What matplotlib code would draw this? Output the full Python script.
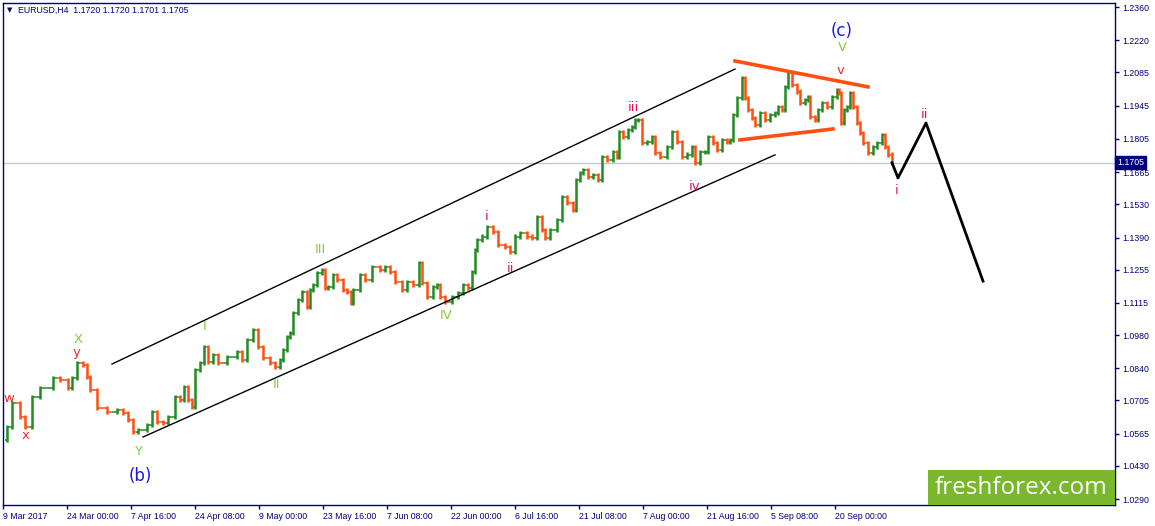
import matplotlib
matplotlib.use("Agg")
import matplotlib.pyplot as plt
from matplotlib.patches import Rectangle

# H4 bars, one pixel per bar; bar index and close
bar_idx = [0, 4, 9, 17, 22, 29, 37, 50, 57, 65, 69, 74, 80, 84, 87, 94, 104, 114, 120, 125,
           130, 135, 144, 149, 154, 160, 165, 172, 177, 181, 185, 189, 192, 197, 201, 205, 210, 215, 224, 234,
           239, 244, 250, 255, 260, 267, 272, 277, 280, 284, 287, 290, 295, 299, 304, 307, 310, 314, 319, 322,
           325, 330, 334, 340, 344, 348, 350, 357, 362, 369, 377, 382, 387, 392, 399, 404, 410, 416, 419, 424,
           430, 434, 437, 442, 449, 455, 460, 465, 469, 472, 474, 479, 484, 490, 495, 502, 507, 512, 517, 524,
           529, 534, 539, 542, 547, 554, 559, 564, 570, 573, 577, 580, 585, 590, 595, 599, 604, 610, 614, 616,
           620, 625, 629, 632, 635, 639, 644, 649, 652, 657, 664, 669, 674, 679, 684, 689, 692, 697, 702, 705,
           710, 714, 719, 724, 727, 730, 734, 739, 742, 745, 749, 752, 757, 762, 767, 772, 775, 779, 782, 785,
           789, 794, 797, 802, 805, 807, 812, 815, 819, 824, 829, 834, 836, 838, 841, 844, 847, 850, 854, 857,
           860, 865, 870, 874, 879, 882, 885, 889]
close = [1.0539, 1.0593, 1.0694, 1.0635, 1.0593, 1.0719, 1.0757, 1.0799, 1.0791, 1.0757,
         1.0799, 1.0862, 1.0854, 1.0803, 1.0749, 1.0673, 1.0656, 1.0665, 1.0652, 1.0623,
         1.0572, 1.0581, 1.0602, 1.0656, 1.0614, 1.0610, 1.0635, 1.0719, 1.0707, 1.0761,
         1.0707, 1.0677, 1.0833, 1.0862, 1.0930, 1.0867, 1.0896, 1.0862, 1.0888, 1.0909,
         1.0875, 1.0959, 1.1001, 1.0930, 1.0883, 1.0862, 1.0846, 1.0875, 1.0917, 1.0972,
         1.0989, 1.1073, 1.1127, 1.1161, 1.1098, 1.1170, 1.1191, 1.1241, 1.1254, 1.1178,
         1.1182, 1.1233, 1.1212, 1.1170, 1.1161, 1.1115, 1.1170, 1.1233, 1.1212, 1.1266,
         1.1254, 1.1266, 1.1245, 1.1203, 1.1170, 1.1203, 1.1191, 1.1283, 1.1199, 1.1140,
         1.1182, 1.1191, 1.1140, 1.1119, 1.1140, 1.1157, 1.1191, 1.1178, 1.1245, 1.1338,
         1.1380, 1.1393, 1.1435, 1.1414, 1.1359, 1.1350, 1.1329, 1.1393, 1.1409, 1.1393,
         1.1388, 1.1477, 1.1422, 1.1388, 1.1422, 1.1464, 1.1561, 1.1535, 1.1506, 1.1632,
         1.1662, 1.1674, 1.1645, 1.1653, 1.1632, 1.1729, 1.1716, 1.1750, 1.1729, 1.1834,
         1.1813, 1.1843, 1.1855, 1.1885, 1.1885, 1.1788, 1.1792, 1.1813, 1.1746, 1.1729,
         1.1771, 1.1834, 1.1792, 1.1729, 1.1738, 1.1771, 1.1704, 1.1750, 1.1750, 1.1813,
         1.1788, 1.1759, 1.1801, 1.1792, 1.1801, 1.1906, 1.1977, 1.2061, 1.1977, 1.1927,
         1.1893, 1.1864, 1.1914, 1.1885, 1.1906, 1.1914, 1.1939, 1.1927, 1.2024, 1.2082,
         1.2032, 1.2003, 1.1956, 1.1969, 1.1981, 1.1897, 1.1885, 1.1927, 1.1956, 1.1939,
         1.1981, 1.2011, 1.1998, 1.1872, 1.1927, 1.1939, 1.1998, 1.1939, 1.1872, 1.1830,
         1.1788, 1.1746, 1.1771, 1.1788, 1.1822, 1.1771, 1.1738, 1.1705]

last_price = 1.1705

# trend lines (bar index, price)
chan_upper = ([109, 732], [1.0858, 1.2099])
chan_lower = ([140, 772], [1.0551, 1.1738])
tri_upper = ([732, 865], [1.2133, 1.2024])
tri_lower = ([737, 830], [1.1801, 1.1847])
forecast = ([889, 895, 923, 980], [1.1705, 1.1641, 1.1872, 1.1207])

# wave labels: text, bar, price, kind
wave_labels = [
    ("w", 6, 1.0711, "red"), ("x", 23, 1.0559, "red"), ("X", 75, 1.0960, "green"),
    ("y", 74, 1.0905, "red"), ("Y", 135, 1.0488, "green"), ("(b)", 137, 1.0387, "blue"),
    ("I", 202, 1.1014, "green"), ("II", 273, 1.0770, "green"), ("III", 317, 1.1338, "green"),
    ("IV", 443, 1.1064, "green"), ("i", 484, 1.1477, "pink"), ("ii", 507, 1.1262, "pink"),
    ("iii", 630, 1.1939, "pink"), ("iv", 692, 1.1607, "pink"), ("(c)", 839, 1.2259, "blue"),
    ("V", 839, 1.2188, "green"), ("v", 838, 1.2091, "red"), ("i", 894, 1.1590, "pink"),
    ("ii", 922, 1.1906, "pink"),
]

price_ticks = [1.2360, 1.2220, 1.2085, 1.1945, 1.1805, 1.1665, 1.1530, 1.1390,
               1.1255, 1.1115, 1.0980, 1.0840, 1.0705, 1.0565, 1.0430, 1.0290]
time_ticks = [0, 64, 128, 192, 256, 320, 384, 448, 512, 576, 640, 704, 768, 832]
time_labels = ["9 Mar 2017", "24 Mar 00:00", "7 Apr 16:00", "24 Apr 08:00", "9 May 00:00",
               "23 May 16:00", "7 Jun 08:00", "22 Jun 00:00", "6 Jul 16:00", "21 Jul 08:00",
               "7 Aug 00:00", "21 Aug 16:00", "5 Sep 08:00", "20 Sep 00:00"]

NAVY = "#00007f"
UP = "#228b22"
DOWN = "#ff4f0f"
colors = {"red": "#f22a2a", "green": "#86cc3a", "pink": "#e8125c", "blue": "#1a1ae6"}

W, H = 1155, 526
fig = plt.figure(figsize=(W / 100, H / 100), dpi=100)
ax = fig.add_axes([3 / W, 21 / H, 1112 / W, 502 / H])
ax.set_xlim(0, 1112)
ax.set_ylim(1.02650, 1.23769)

for s in ax.spines.values():
    s.set_color(NAVY)
    s.set_linewidth(1)

# bars: open = previous close, ticks reach halfway to the neighbours
pad = 0.0010
for i in range(1, len(close)):
    o, c = close[i - 1], close[i]
    x = bar_idx[i]
    col = UP if c >= o else DOWN
    left = (bar_idx[i - 1] + x) / 2
    right = (x + bar_idx[i + 1]) / 2 if i + 1 < len(bar_idx) else x + 1.5
    ax.vlines(x, min(o, c) - pad, max(o, c) + pad, color=col, lw=1.8, zorder=3)
    ax.hlines(o, left, x, color=col, lw=1.1, zorder=3)
    ax.hlines(c, x, right, color=col, lw=1.1, zorder=3)

ax.axhline(last_price, color="#c8c8c8", lw=1, zorder=1)

ax.plot(*chan_upper, color="black", lw=1, zorder=4)
ax.plot(*chan_lower, color="black", lw=1, zorder=4)
ax.plot(*tri_upper, color="#ff5010", lw=2.6, zorder=4)
ax.plot(*tri_lower, color="#ff5010", lw=2.6, zorder=4)
ax.plot(*forecast, color="black", lw=2, zorder=4)

for txt, bx, pr, kind in wave_labels:
    size = 12 if kind == "blue" else 9.5
    ax.text(bx, pr, txt, color=colors[kind], fontsize=size, ha="center", va="center",
            family="DejaVu Sans", zorder=5, clip_on=False)

ax.yaxis.tick_right()
ax.set_yticks(price_ticks)
ax.set_yticklabels([f"{p:.4f}" for p in price_ticks])
ax.set_xticks(time_ticks)
ax.set_xticklabels(time_labels)
ax.tick_params(axis="both", colors=NAVY, labelcolor=NAVY, length=3, width=1,
               labelsize=6.3, pad=2)
for lab in ax.get_xticklabels():
    lab.set_horizontalalignment("left")
    lab.set_family("Liberation Sans")
for lab in ax.get_yticklabels():
    lab.set_family("Liberation Sans")

ax.text(1.002, last_price, f"{last_price:.4f}", transform=ax.get_yaxis_transform(),
        color="white", fontsize=6.3, family="Liberation Sans", va="center", ha="left",
        bbox=dict(boxstyle="square,pad=0.2", fc=NAVY, ec=NAVY), zorder=6)

fig.text(7 / W, 1 - 10 / H, "\u25bc", fontsize=5, color=NAVY, va="center", ha="left")
fig.text(18 / W, 1 - 10 / H, "EURUSD,H4  1.1720 1.1720 1.1701 1.1705", fontsize=6.3,
         color=NAVY, va="center", ha="left", family="Liberation Sans")

fig.patches.append(Rectangle((928 / W, 21 / H), 187 / W, 35 / H, transform=fig.transFigure,
                             facecolor="#7ab72d", edgecolor="none", zorder=7))
fig.text(1021 / W, 38.5 / H, "freshforex.com", color="white", fontsize=17.5,
         family="Open Sans", ha="center", va="center", zorder=8)

fig.savefig("out.png", dpi=100)
